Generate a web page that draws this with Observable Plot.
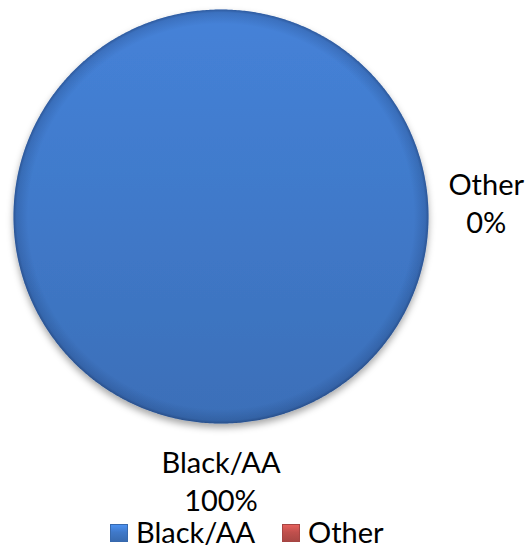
<!DOCTYPE html>
<html>
<head>
<meta charset="utf-8">
<script src="https://cdn.jsdelivr.net/npm/d3@7"></script>
<script src="https://cdn.jsdelivr.net/npm/@observablehq/plot@0.6"></script>
<style>
  html, body { margin: 0; padding: 0; background: #fff; }
  body { width: 528px; height: 549px; overflow: hidden; font-family: Lato, "Open Sans", sans-serif; }
  #legend { position: relative; height: 33px; }
  .item { position: absolute; top: -2px; display: flex; align-items: center; font-size: 29px; line-height: 35px; height: 35px; color: #000; white-space: nowrap; }
  .sw { width: 18px; height: 18px; margin-right: 8px; margin-top: 2px; box-sizing: border-box; }
</style>
</head>
<body>
<div id="chart"></div>
<div id="legend"></div>
<script>
// ---- data ----
const categories = ["Black/AA", "Other"];
const values = [100, 0];
const percentLabels = ["100%", "0%"];
const colors = ["#4079c9", "#c0504d"];

const rows = categories.map((c, i) => ({category: c, value: values[i], pct: percentLabels[i], i}));
const arcs = d3.pie().sort(null).value(d => d.value)(rows);

// slice outlines (unit circle, y up)
const pts = [];
const labels = [];
arcs.forEach(a => {
  const span = a.endAngle - a.startAngle;
  if (span > 0) {
    const n = Math.max(2, Math.ceil(span / (Math.PI / 360)));
    if (span < 2 * Math.PI - 1e-9) pts.push({category: a.data.category, x: 0, y: 0});
    for (let k = 0; k <= n; k++) {
      const t = a.startAngle + span * k / n;
      pts.push({category: a.data.category, x: Math.sin(t), y: Math.cos(t)});
    }
  }
  // outside-end label; an empty slice's label is set to the side as in the source
  const mid = span > 0 ? (a.startAngle + a.endAngle) / 2 : Math.PI / 2 - 0.055;
  labels.push({text: a.data.category + "\n" + a.data.pct, x: 1.28 * Math.sin(mid), y: 1.27 * Math.cos(mid)});
});

const W = 528, H = 516;
const chart = Plot.plot({
  width: W,
  height: H,
  marginLeft: 13,
  marginRight: 100,
  marginTop: 9,
  marginBottom: 93,
  x: {domain: [-1, 1], axis: null},
  y: {domain: [-1, 1], axis: null},
  style: {overflow: "visible", fontFamily: "Lato, 'Open Sans', sans-serif", background: "#fff"},
  marks: [
    ...categories.map((c, i) => Plot.line(pts.filter(p => p.category === c), {
      x: "x", y: "y", fill: `url(#sliceGrad${i})`, stroke: "none"
    })),
    ...categories.map((c, i) => Plot.line(pts.filter(p => p.category === c), {
      x: "x", y: "y", fill: "url(#rimGrad)", stroke: "none"
    })),
    Plot.text(labels, {
      x: "x", y: "y", text: "text", fontSize: 29, lineHeight: 1.31,
      textAnchor: "middle", lineAnchor: "middle", fill: "#000"
    })
  ]
});

// gradients and shadow
const svg = d3.select(chart);
const defs = svg.insert("defs", ":first-child");
function shade(hex, k) { const c = d3.rgb(hex); return k >= 0 ? c.brighter(k).formatHex() : c.darker(-k).formatHex(); }
colors.forEach((col, i) => {
  const g = defs.append("linearGradient").attr("id", `sliceGrad${i}`).attr("x1", 0).attr("y1", 0).attr("x2", 0).attr("y2", 1);
  g.append("stop").attr("offset", 0).attr("stop-color", shade(col, 0.2));
  g.append("stop").attr("offset", 0.5).attr("stop-color", col);
  g.append("stop").attr("offset", 1).attr("stop-color", shade(col, -0.25));
});
const rim = defs.append("radialGradient").attr("id", "rimGrad").attr("cx", 0.5).attr("cy", 0.5).attr("r", 0.5);
rim.append("stop").attr("offset", 0).attr("stop-color", "#0a1a40").attr("stop-opacity", 0);
rim.append("stop").attr("offset", 0.93).attr("stop-color", "#0a1a40").attr("stop-opacity", 0);
rim.append("stop").attr("offset", 0.985).attr("stop-color", "#0a1a40").attr("stop-opacity", 0.16);
rim.append("stop").attr("offset", 1).attr("stop-color", "#0a1a40").attr("stop-opacity", 0.38);
const f = defs.append("filter").attr("id", "shadow").attr("x", "-10%").attr("y", "-10%").attr("width", "120%").attr("height", "125%");
f.append("feDropShadow").attr("dx", 0).attr("dy", 4).attr("stdDeviation", 3.5).attr("flood-color", "#000").attr("flood-opacity", 0.35);
svg.select("g[aria-label=line]").attr("filter", "url(#shadow)");

document.getElementById("chart").appendChild(chart);

// legend
const legend = document.getElementById("legend");
const lefts = [110, 282];
categories.forEach((c, i) => {
  const item = document.createElement("div");
  item.className = "item";
  item.style.left = lefts[i] + "px";
  const sw = document.createElement("span");
  sw.className = "sw";
  const col = colors[i];
  sw.style.background = `linear-gradient(180deg, ${shade(col, 0.5)} 0%, ${col} 45%, ${shade(col, -0.35)} 100%)`;
  sw.style.border = `1px solid ${shade(col, -0.4)}`;
  const tx = document.createElement("span");
  tx.textContent = c;
  item.appendChild(sw);
  item.appendChild(tx);
  legend.appendChild(item);
});
</script>
</body>
</html>
